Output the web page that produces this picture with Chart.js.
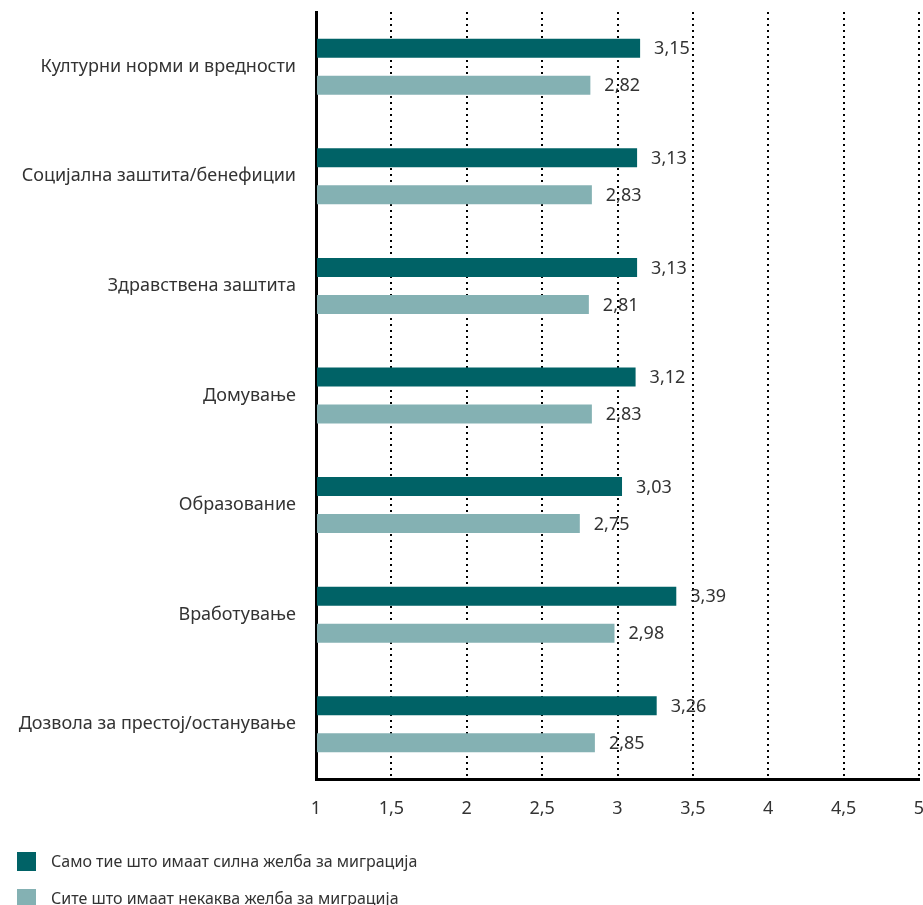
<!DOCTYPE html>
<html>
<head>
<meta charset="utf-8">
<script src="https://cdn.jsdelivr.net/npm/chart.js@4.4.0/dist/chart.umd.min.js"></script>
<style>
    html, body { margin: 0; padding: 0; background: #fff; }
    #wrap { position: relative; width: 923px; height: 905px; overflow: hidden; }
    #legend { position: absolute; left: 17px; top: 852px; font-family: 'Noto Sans', sans-serif; font-size: 16px; color: #333; }
    .item { position: relative; height: 37px; line-height: 19px; padding-left: 34px; }
    .item span { position: absolute; left: 0; top: 0; width: 19px; height: 19px; }
</style>
</head>
<body>
<div id="wrap">
    <canvas id="barChart" width="923" height="905"></canvas>
    <div id="legend"></div>
</div>
<script>
var categories = [
    'Културни норми и вредности',
    'Социјална заштита/бенефиции',
    'Здравствена заштита',
    'Домување',
    'Образование',
    'Вработување',
    'Дозвола за престој/останување'
];
var strongDesire = [3.15, 3.13, 3.13, 3.12, 3.03, 3.39, 3.26];
var anyDesire = [2.82, 2.83, 2.81, 2.83, 2.75, 2.98, 2.85];
var seriesNames = [
    'Само тие што имаат силна желба за миграција',
    'Сите што имаат некаква желба за миграција'
];
var seriesColors = ['#006266', '#84b1b3'];
var xTickValues = [1, 1.5, 2, 2.5, 3, 3.5, 4, 4.5, 5];

function fmt(v) {
    return String(v).replace('.', ',');
}

// value labels to the right of each bar
var valueLabels = {
    id: 'valueLabels',
    afterDatasetsDraw: function (chart) {
        var ctx = chart.ctx;
        ctx.save();
        ctx.font = '18px "Noto Sans"';
        ctx.fillStyle = '#333';
        ctx.textAlign = 'left';
        ctx.textBaseline = 'middle';
        chart.data.datasets.forEach(function (ds, i) {
            chart.getDatasetMeta(i).data.forEach(function (bar, j) {
                ctx.fillText(ds.data[j].toFixed(2).replace('.', ','), bar.x + 14, bar.y + 1);
            });
        });
        ctx.restore();
    }
};

var ctx = document.getElementById('barChart').getContext('2d');

new Chart(ctx, {
    type: 'bar',
    data: {
        labels: categories,
        datasets: [{
            label: seriesNames[0],
            data: strongDesire,
            backgroundColor: seriesColors[0]
        }, {
            label: seriesNames[1],
            data: anyDesire,
            backgroundColor: seriesColors[1]
        }]
    },
    options: {
        indexAxis: 'y',
        responsive: false,
        animation: false,
        datasets: {
            bar: { categoryPercentage: 0.675, barPercentage: 0.514, base: 1 }
        },
        layout: {
            padding: { top: 12, right: 4, bottom: 0, left: 0 }
        },
        plugins: {
            legend: { display: false },
            tooltip: { enabled: false }
        },
        scales: {
            x: {
                min: 1,
                max: 5,
                afterBuildTicks: function (scale) {
                    scale.ticks = xTickValues.map(function (v) { return { value: v }; });
                },
                afterFit: function (scale) {
                    scale.height = 126;
                    scale.paddingLeft = 0;
                    scale.paddingRight = 0;
                },
                grid: {
                    color: '#000',
                    lineWidth: 2,
                    drawTicks: false
                },
                border: {
                    color: '#000',
                    width: 3,
                    dash: [2, 4]
                },
                ticks: {
                    padding: 19,
                    color: '#333',
                    font: { family: 'Noto Sans', size: 18 },
                    callback: function (v) { return fmt(v); }
                }
            },
            y: {
                afterFit: function (scale) {
                    scale.width = 316;
                    scale.paddingTop = 0;
                    scale.paddingBottom = 0;
                },
                grid: { display: false, drawTicks: false },
                border: {
                    color: '#000',
                    width: 3
                },
                ticks: {
                    padding: 20,
                    color: '#333',
                    font: { family: 'Noto Sans', size: 18 }
                }
            }
        }
    },
    plugins: [valueLabels]
});

// legend below the chart
var legend = document.getElementById('legend');
seriesNames.forEach(function (name, i) {
    var item = document.createElement('div');
    item.className = 'item';
    item.innerHTML = '<span style="background:' + seriesColors[i] + '"></span>' + name;
    legend.appendChild(item);
});
</script>
</body>
</html>
